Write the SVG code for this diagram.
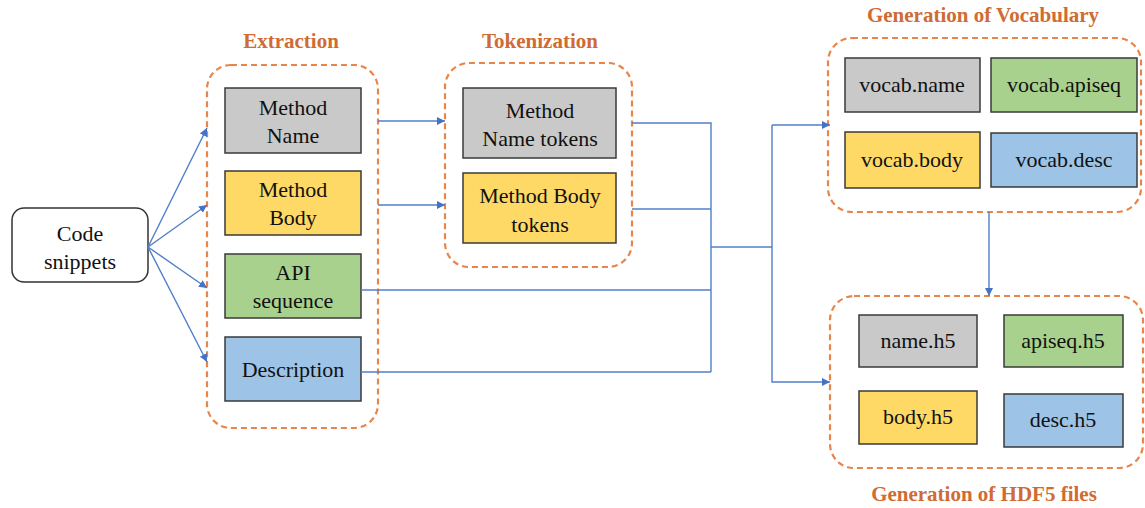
<svg xmlns="http://www.w3.org/2000/svg" width="1145" height="508" viewBox="0 0 1145 508" font-family="Liberation Serif">
<defs>
<marker id="ah" viewBox="0 0 10 10" refX="10" refY="5" markerWidth="8" markerHeight="8" markerUnits="userSpaceOnUse" orient="auto">
<path d="M0,0 L10,5 L0,10 z" fill="#4472c4"/>
</marker>
<style>
.grp{fill:none;stroke:#e8854a;stroke-width:2.2;stroke-dasharray:6,4}
.box{stroke:#3a3a3a;stroke-width:1.5}
.gray{fill:#c9c9c9}.yel{fill:#ffd966}.grn{fill:#a9d18e}.blu{fill:#9dc3e6}
.lbl{font-size:22px;fill:#111;text-anchor:middle}
.title{font-size:21px;font-weight:bold;fill:#cf6b33;text-anchor:middle}
.c{fill:none;stroke:#4f7fc8;stroke-width:1.4}
</style>
</defs>
<rect width="1145" height="508" fill="#fff"/>

<g id="code-snippets">
<rect x="12" y="208" width="136" height="74" rx="12" fill="#fff" stroke="#333" stroke-width="1.5"/>
<text class="lbl" x="80" y="241" font-family="Liberation Serif">Code</text>
<text class="lbl" x="80" y="269" font-family="Liberation Serif">snippets</text>
</g>

<g id="extraction">
<text class="title" x="291" y="48" font-family="Liberation Serif">Extraction</text>
<rect class="grp" x="207" y="65" width="171" height="363" rx="24"/>
</g>
<g id="method-name">
<rect class="box gray" x="225" y="88" width="136" height="65"/>
<text class="lbl" x="293" y="115" font-family="Liberation Serif">Method</text>
<text class="lbl" x="293" y="143" font-family="Liberation Serif">Name</text>
</g>
<g id="method-body">
<rect class="box yel" x="225" y="171" width="136" height="64"/>
<text class="lbl" x="293" y="197" font-family="Liberation Serif">Method</text>
<text class="lbl" x="293" y="225" font-family="Liberation Serif">Body</text>
</g>
<g id="api-sequence">
<rect class="box grn" x="225" y="254" width="136" height="64"/>
<text class="lbl" x="293" y="280" font-family="Liberation Serif">API</text>
<text class="lbl" x="293" y="308" font-family="Liberation Serif">sequence</text>
</g>
<g id="description">
<rect class="box blu" x="225" y="337" width="136" height="64"/>
<text class="lbl" x="293" y="377" font-family="Liberation Serif">Description</text>
</g>

<g id="tokenization">
<text class="title" x="540" y="48" font-family="Liberation Serif">Tokenization</text>
<rect class="grp" x="445" y="63" width="187" height="204" rx="24"/>
</g>
<g id="method-name-tokens">
<rect class="box gray" x="463" y="88" width="153" height="70"/>
<text class="lbl" x="540" y="118" font-family="Liberation Serif">Method</text>
<text class="lbl" x="540" y="146" font-family="Liberation Serif">Name tokens</text>
</g>
<g id="method-body-tokens">
<rect class="box yel" x="463" y="173" width="153" height="70"/>
<text class="lbl" x="540" y="203" font-family="Liberation Serif">Method Body</text>
<text class="lbl" x="540" y="232" font-family="Liberation Serif">tokens</text>
</g>

<g id="vocabulary">
<text class="title" x="983" y="22" font-family="Liberation Serif">Generation of Vocabulary</text>
<rect class="grp" x="828" y="38" width="313" height="174" rx="24"/>
</g>
<g id="vocab-name">
<rect class="box gray" x="845" y="58" width="135" height="54"/>
<text class="lbl" x="912" y="92" font-family="Liberation Serif">vocab.name</text>
</g>
<g id="vocab-apiseq">
<rect class="box grn" x="991" y="58" width="146" height="54"/>
<text class="lbl" x="1064" y="92" font-family="Liberation Serif">vocab.apiseq</text>
</g>
<g id="vocab-body">
<rect class="box yel" x="845" y="132" width="135" height="56"/>
<text class="lbl" x="912" y="167" font-family="Liberation Serif">vocab.body</text>
</g>
<g id="vocab-desc">
<rect class="box blu" x="991" y="133" width="146" height="54"/>
<text class="lbl" x="1064" y="167" font-family="Liberation Serif">vocab.desc</text>
</g>

<g id="hdf5">
<text class="title" x="984" y="501" font-family="Liberation Serif">Generation of HDF5 files</text>
<rect class="grp" x="830" y="296" width="313" height="172" rx="24"/>
</g>
<g id="name-h5">
<rect class="box gray" x="859" y="315" width="118" height="52"/>
<text class="lbl" x="918" y="348" font-family="Liberation Serif">name.h5</text>
</g>
<g id="apiseq-h5">
<rect class="box grn" x="1004" y="315" width="119" height="52"/>
<text class="lbl" x="1063" y="348" font-family="Liberation Serif">apiseq.h5</text>
</g>
<g id="body-h5">
<rect class="box yel" x="859" y="391" width="118" height="53"/>
<text class="lbl" x="918" y="424" font-family="Liberation Serif">body.h5</text>
</g>
<g id="desc-h5">
<rect class="box blu" x="1004" y="394" width="119" height="53"/>
<text class="lbl" x="1063" y="427" font-family="Liberation Serif">desc.h5</text>
</g>

<g id="connectors">
<path class="c" d="M148,247 L207,128" marker-end="url(#ah)"/>
<path class="c" d="M148,247 L207,205" marker-end="url(#ah)"/>
<path class="c" d="M148,247 L207,288" marker-end="url(#ah)"/>
<path class="c" d="M148,247 L207,362" marker-end="url(#ah)"/>
<path class="c" d="M378,121 L445,121" marker-end="url(#ah)"/>
<path class="c" d="M378,205 L445,205" marker-end="url(#ah)"/>
<path class="c" d="M632,123 L711,123 L711,372"/>
<path class="c" d="M632,209 L711,209"/>
<path class="c" d="M361,290 L711,290"/>
<path class="c" d="M361,372 L711,372"/>
<path class="c" d="M711,247 L772,247"/>
<path class="c" d="M772,125 L772,382 L830,382" marker-end="url(#ah)"/>
<path class="c" d="M772,125 L830,125" marker-end="url(#ah)"/>
<path class="c" d="M989,212 L989,296" marker-end="url(#ah)"/>
</g>
</svg>
